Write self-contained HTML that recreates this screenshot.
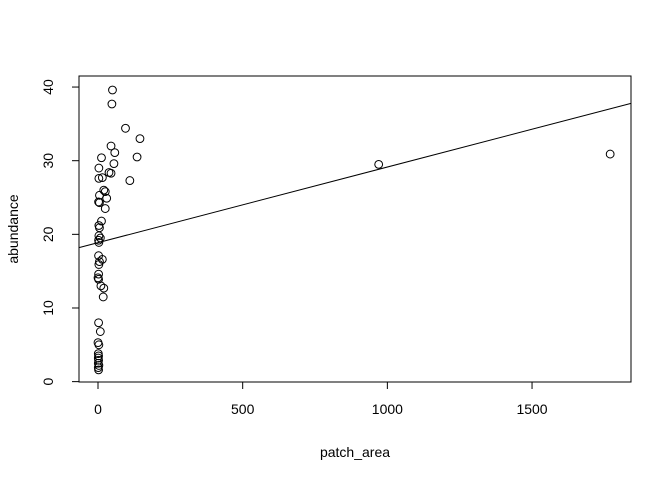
<!DOCTYPE html>
<html><head><meta charset="utf-8"><style>
body{margin:0;background:#fff}
svg text{font-family:"Liberation Sans",Arial,sans-serif;font-size:14px;fill:#000}
</style></head><body>
<svg id="chart" width="672" height="480" xmlns="http://www.w3.org/2000/svg"></svg>
<script>
const xs=[50,48,95,145,45,58,135,12,55,3,38,45,110,15,3,20,25,5,30,2,5,25,12,3,5,3,8,2,3,15,5,2,3,2,0,2,10,20,18,2,8,0,3,1,2,1,2,1,3,1,2,970,1770];
const ys=[39.6,37.7,34.4,33,32,31.1,30.5,30.4,29.6,29,28.4,28.3,27.3,27.7,27.6,26,25.8,25.3,24.9,24.4,24.3,23.5,21.8,21.2,20.9,19.8,19.5,19.2,18.9,16.6,16.3,17.1,15.9,14.6,14.1,13.9,13,12.7,11.5,8,6.8,5.3,5,3.8,3.5,3.2,2.9,2.5,2.2,1.9,1.6,29.5,30.9];
const xTicks=[0,500,1000,1500];
const yTicks=[0,10,20,30,40];
const fitIntercept=18.87, fitSlope=0.01027;
const L=79,R=631,T=76,B=382;
const xMin=-65.7,xMax=1842,yMin=-0.05,yMax=41.5;
const sx=v=>L+(v-xMin)/(xMax-xMin)*(R-L);
const sy=v=>B-(v-yMin)/(yMax-yMin)*(B-T);
const svg=document.getElementById('chart');
const NS='http://www.w3.org/2000/svg';
function mk(t,a){const e=document.createElementNS(NS,t);for(const k in a)e.setAttribute(k,a[k]);svg.appendChild(e);return e;}
let e=mk('rect',{x:L,y:T,width:R-L,height:B-T,fill:'none',stroke:'#000','stroke-width':1});


e=mk('line',{x1:sx(0),x2:sx(1500),y1:B,y2:B,stroke:'#000'});


xTicks.forEach(v=>{
 let t=mk('line',{x1:sx(v),x2:sx(v),y1:B,y2:B+7,stroke:'#000'});
 
 
 let l=mk('text',{x:sx(v),y:B+32,'text-anchor':'middle'});l.textContent=v;
 
 
});
e=mk('line',{x1:L,x2:L,y1:sy(0),y2:sy(40),stroke:'#000'});


yTicks.forEach(v=>{
 let t=mk('line',{x1:L-7,x2:L,y1:sy(v),y2:sy(v),stroke:'#000'});
 
 
 let l=mk('text',{x:L-26,y:sy(v),'text-anchor':'middle',transform:`rotate(-90 ${L-26} ${sy(v)})`});l.textContent=v;
 
 
});
e=mk('text',{x:355,y:457,'text-anchor':'middle'});e.textContent='patch_area';


e=mk('text',{x:18,y:229,'text-anchor':'middle',transform:'rotate(-90 18 229)'});e.textContent='abundance';


xs.forEach((x,i)=>{
 let c=mk('circle',{cx:sx(x),cy:sy(ys[i]),r:3.9,fill:'none',stroke:'#000','stroke-width':1});
 
 
});
e=mk('line',{x1:L,y1:sy(fitIntercept+fitSlope*xMin),x2:R,y2:sy(fitIntercept+fitSlope*xMax),stroke:'#000','stroke-width':1});


</script>
</body></html>
